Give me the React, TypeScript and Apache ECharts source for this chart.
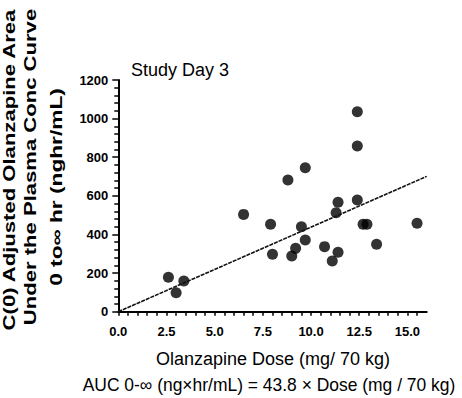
import React, { useEffect, useRef } from "react";
import * as echarts from "echarts";

// ---- data ----
const doseValues = [2.6, 3.0, 3.4, 6.5, 7.9, 8.0, 8.8, 9.0, 9.2, 9.5, 9.7, 9.7, 10.7, 11.1, 11.4, 11.3, 11.4, 12.4, 12.4, 12.4, 12.7, 12.9, 13.4, 15.5];
const aucValues = [178, 98, 159, 504, 453, 297, 682, 288, 328, 440, 371, 746, 337, 263, 308, 513, 567, 1036, 858, 579, 453, 453, 349, 458];
const fitLineX = [0, 16];
const fitLineY = [0, 700.8];
const xMajorTicks = [0, 2.5, 5, 7.5, 10, 12.5, 15];
const yTitleLines = [
  "C(0) Adjusted Olanzapine Area",
  "Under the Plasma Conc Curve",
  "0 to\u221e hr (nghr/mL)",
];
const chartTitle = "Study Day 3";
const xTitle = "Olanzapine Dose (mg/ 70 kg)";
const formulaText = "AUC 0-\u221e (ng\u00d7hr/mL) = 43.8 \u00d7 Dose (mg / 70 kg)";

const FONT = '"Liberation Sans", Arial, Helvetica, sans-serif';

export default function App() {
  const ref = useRef<HTMLDivElement>(null);
  useEffect(() => {
    if (!ref.current) return;
    const chart = echarts.init(ref.current, null, { renderer: "svg" });
    const points = doseValues.map((d, i) => [d, aucValues[i]]);
    const line = fitLineX.map((x, i) => [x, fitLineY[i]]);
    const txt = (
      text: string,
      x: number,
      y: number,
      opts: { size: number; weight?: string; align?: string; rotation?: number; scaleX?: number }
    ) => ({
      type: "text",
      x,
      y,
      rotation: opts.rotation || 0,
      scaleX: opts.scaleX || 1,
      scaleY: 1,
      silent: true,
      style: {
        text,
        fontSize: opts.size,
        fontFamily: FONT,
        fontWeight: opts.weight || "normal",
        fill: "#000",
        align: opts.align || "center",
        textAlign: opts.align || "center",
        verticalAlign: "middle",
        textVerticalAlign: "middle",
      },
    });
    chart.setOption({
      animation: false,
      backgroundColor: "#fff",
      grid: { left: 118.3, right: 35.3, top: 80, bottom: 86.3 },
      xAxis: {
        type: "value",
        min: 0,
        max: 16,
        interval: 0.5,
        axisLine: { show: true, lineStyle: { color: "#000", width: 2 } },
        axisTick: { show: true, length: 4, lineStyle: { color: "#000", width: 1.5 } },
        axisLabel: {
          margin: 13,
          color: "#000",
          fontSize: 13,
          fontWeight: "bold",
          fontFamily: FONT,
          hideOverlap: false,
          interval: 0,
          showMaxLabel: false,
          formatter: (v: number) => (xMajorTicks.indexOf(v) >= 0 ? v.toFixed(1) : ""),
        },
        splitLine: { show: true, lineStyle: { color: "rgba(0,0,0,0)", width: 0 } },
      },
      yAxis: {
        type: "value",
        min: 0,
        max: 1200,
        interval: 200,
        axisLine: { show: true, lineStyle: { color: "#000", width: 2 } },
        axisTick: { show: true, length: 6, lineStyle: { color: "#000", width: 1.5 } },
        minorTick: { show: true, splitNumber: 5, length: 4, lineStyle: { color: "#000", width: 1.5 } },
        axisLabel: {
          margin: 10,
          color: "#000",
          fontSize: 13,
          fontWeight: "bold",
          fontFamily: FONT,
          formatter: (v: number) => String(v),
        },
        splitLine: { show: true, lineStyle: { color: "rgba(0,0,0,0)", width: 0 } },
      },
      series: [
        {
          type: "line",
          data: line,
          showSymbol: false,
          symbol: "none",
          lineStyle: { color: "#111", width: 1.6, type: [4, 1] },
        },
        {
          type: "scatter",
          data: points,
          symbol: "circle",
          symbolSize: 11,
          itemStyle: { color: "#000" },
        },
      ],
      graphic: [
        txt(yTitleLines[0], 10, 170, { size: 16, weight: "bold", rotation: Math.PI / 2, scaleX: 1.38 }),
        txt(yTitleLines[1], 31, 167, { size: 16, weight: "bold", rotation: Math.PI / 2, scaleX: 1.38 }),
        txt(yTitleLines[2], 56, 187, { size: 16, weight: "bold", rotation: Math.PI / 2, scaleX: 1.42 }),
        txt(chartTitle, 131, 69.5, { size: 18, align: "left" }),
        txt(xTitle, 273, 359, { size: 18 }),
        txt(formulaText, 269, 385, { size: 18, scaleX: 0.97 }),
      ],
    });
    return () => chart.dispose();
  }, []);
  return (
    <div
      ref={ref}
      style={{ position: "absolute", left: 0, top: 0, width: 462, height: 398, background: "#fff" }}
    />
  );
}
